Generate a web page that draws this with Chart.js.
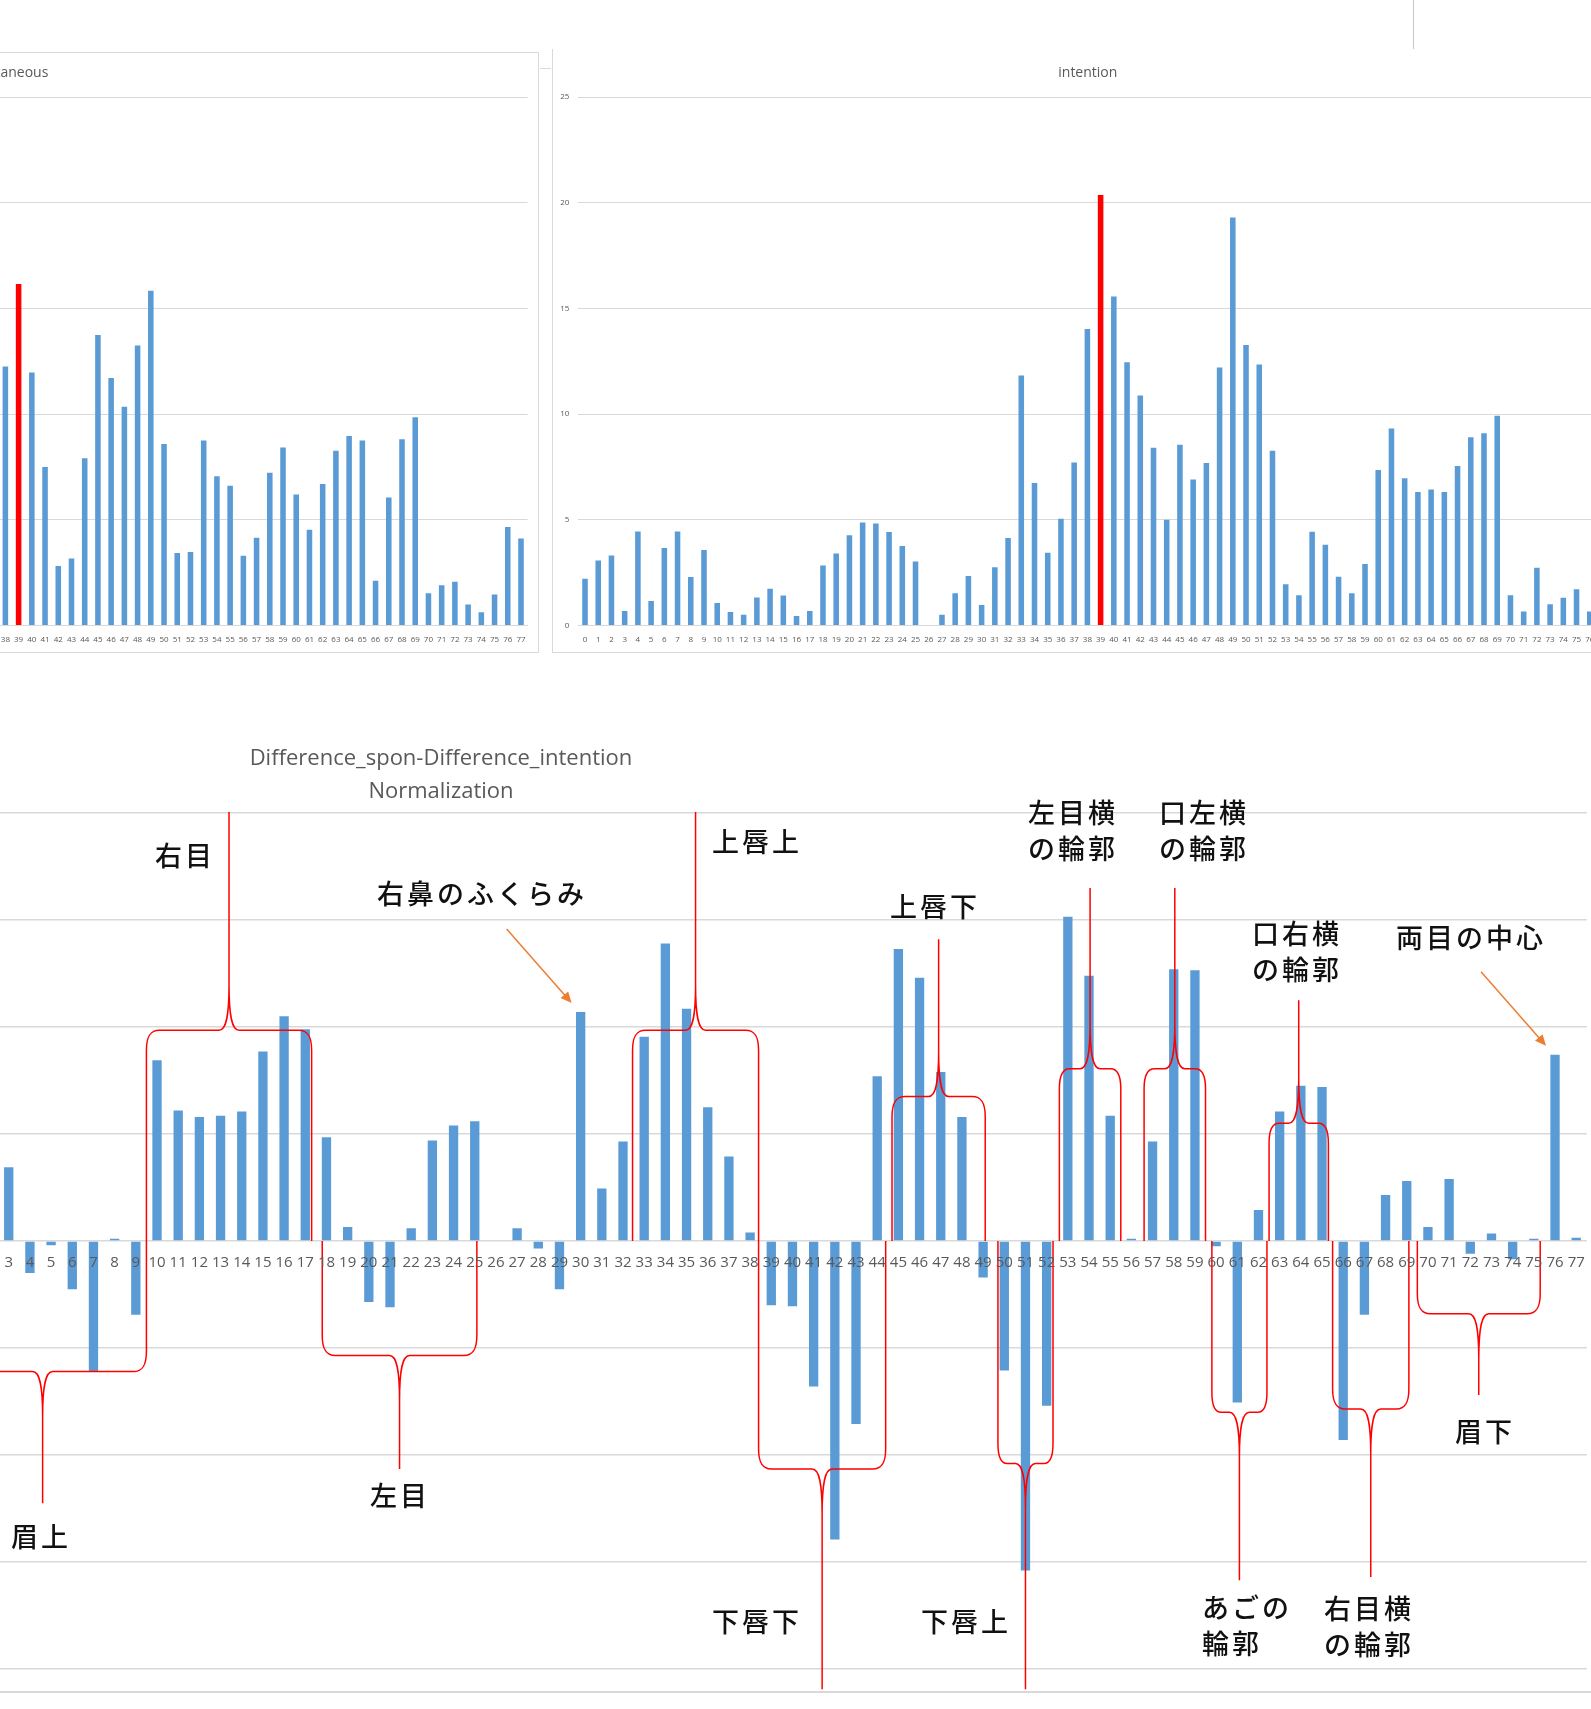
<!DOCTYPE html>
<html>
<head>
<meta charset="utf-8">
<script src="https://cdn.jsdelivr.net/npm/chart.js@4.4.0/dist/chart.umd.min.js"></script>
<style>
  body { margin: 0; width: 1591px; height: 1709px; overflow: hidden; position: relative; background: #fff; }
  canvas, .line, .note, .panel { position: absolute; }
  .panel { border: 1px solid #d9d9d9; box-sizing: border-box; }
  .line { background: #d9d9d9; }
  .note { font-family: "Noto Sans CJK JP", sans-serif; font-size: 27px; font-weight: 500; letter-spacing: 3px; line-height: 36px;
          color: #111; transform: translate(-50%, -50%); white-space: nowrap; text-align: left; }
  .ttl { position: absolute; font-family: "Open Sans", sans-serif; font-size: 22px; line-height: 33px; color: #595959;
         transform: translate(-50%, 0); text-align: center; white-space: nowrap; }
</style>
</head>
<body>
<div class="panel" style="left:-531px;top:52px;width:1070px;height:601px"></div>
<div class="panel" style="left:552px;top:49px;width:1100px;height:604px;border-top:none;border-right:none"></div>
<div class="line" style="left:540px;top:68px;width:11px;height:1px"></div>
<div class="line" style="left:1413px;top:0;width:1px;height:49px;background:#c8c8c8"></div>
<div class="line" style="left:0;top:1691px;width:1591px;height:2px"></div>

<canvas id="spon" width="1068" height="603" style="left:-530px;top:49px"></canvas>
<canvas id="intent" width="1068" height="603" style="left:552px;top:49px"></canvas>
<canvas id="diff" width="1720" height="1000" style="left:-120px;top:700px"></canvas>

<div class="ttl" style="left:441px;top:740px">Difference_spon-Difference_intention<br>Normalization</div>

<div class="note" style="left:185px;top:855px">右目</div>
<div class="note" style="left:482px;top:893px">右鼻のふくらみ</div>
<div class="note" style="left:757px;top:841px">上唇上</div>
<div class="note" style="left:935px;top:906px">上唇下</div>
<div class="note" style="left:1073px;top:830px">左目横<br>の輪郭</div>
<div class="note" style="left:1204px;top:830px">口左横<br>の輪郭</div>
<div class="note" style="left:1297px;top:951px">口右横<br>の輪郭</div>
<div class="note" style="left:1471px;top:937px">両目の中心</div>
<div class="note" style="left:41px;top:1536px">眉上</div>
<div class="note" style="left:400px;top:1495px">左目</div>
<div class="note" style="left:757px;top:1621px">下唇下</div>
<div class="note" style="left:966px;top:1621px">下唇上</div>
<div class="note" style="left:1247px;top:1625px">あごの<br>輪郭</div>
<div class="note" style="left:1369px;top:1626px">右目横<br>の輪郭</div>
<div class="note" style="left:1485px;top:1431px">眉下</div>

<script>
// categories 0..77 (landmark index)
var points = ['0','1','2','3','4','5','6','7','8','9','10','11','12','13','14','15','16','17','18','19',
  '20','21','22','23','24','25','26','27','28','29','30','31','32','33','34','35','36','37','38','39',
  '40','41','42','43','44','45','46','47','48','49','50','51','52','53','54','55','56','57','58','59',
  '60','61','62','63','64','65','66','67','68','69','70','71','72','73','74','75','76','77'];

// spontaneous: only 38..77 visible in the picture
var sponValues = [null,null,null,null,null,null,null,null,null,null,null,null,null,null,null,null,null,null,null,null,
  null,null,null,null,null,null,null,null,null,null,null,null,null,null,null,null,null,null,
  12.25,16.15,11.97,7.50,2.81,3.17,7.91,13.74,11.71,10.35,13.24,15.83,8.58,3.43,3.48,8.75,7.06,6.61,3.30,4.15,
  7.23,8.42,6.20,4.53,6.69,8.27,8.96,8.75,2.12,6.05,8.81,9.85,1.53,1.90,2.07,0.99,0.63,1.47,4.66,4.12];

var intentValues = [2.21,3.07,3.31,0.69,4.45,1.16,3.67,4.45,2.30,3.57,1.07,0.64,0.51,1.33,1.74,1.42,0.45,0.69,2.84,3.41,
  4.27,4.87,4.83,4.42,3.76,3.03,0,0.51,1.52,2.34,0.97,2.75,4.14,11.83,6.74,3.44,5.05,7.71,14.02,20.36,
  15.56,12.45,10.88,8.41,5.00,8.55,6.91,7.69,12.21,19.30,13.27,12.35,8.27,1.95,1.43,4.44,3.82,2.31,1.53,2.91,
  7.35,9.32,6.97,6.31,6.43,6.31,7.55,8.90,9.10,9.92,1.43,0.66,2.73,1.00,1.31,1.71,0.66,null];

var highlightPoint = 39;

// normalized difference: 0..2 are cut off in the picture
var diffValues = [null,null,null,0.69,-0.30,-0.04,-0.45,-1.22,0.02,-0.69,1.69,1.22,1.16,1.17,1.21,1.77,2.10,1.98,0.97,0.13,
  -0.57,-0.62,0.12,0.94,1.08,1.12,0,0.12,-0.07,-0.45,2.14,0.49,0.93,1.91,2.78,2.17,1.25,0.79,0.08,-0.60,
  -0.61,-1.36,-2.79,-1.71,1.54,2.73,2.46,1.58,1.16,-0.34,-1.21,-3.08,-1.54,3.03,2.48,1.17,0.02,0.93,2.54,2.53,
  -0.05,-1.51,0.29,1.21,1.45,1.44,-1.86,-0.69,0.43,0.56,0.13,0.58,-0.12,0.07,-0.17,0.02,1.74,0.03];

// face-region braces (category span, level, tip)
var braceFrom  = [-0.3, 9.5, 17.8, 32.45, 38.4, 44.7, 49.7, 52.6, 56.6, 59.8, 62.5, 65.5, 69.5];
var braceTo    = [9.5, 17.3, 25.1, 38.4, 44.4, 49.1, 52.3, 55.5, 59.5, 62.4, 65.3, 69.1, 75.3];
var braceLevel = [-1.22, 1.97, -1.07, 1.97, -2.13, 1.35, -2.08, 1.61, 1.61, -1.60, 1.10, -1.57, -0.68];
var braceTip   = [-2.45, 4.01, -2.13, 4.01, -4.19, 2.82, -4.19, 3.30, 3.30, -3.17, 2.25, -3.14, -1.44];

// bars pointed at by arrows
var arrowPoints = [30, 76];

Chart.defaults.font.family = "'Open Sans', sans-serif";

// excel centres the title a little right of the canvas middle
var titleShift = {
    id: 'titleShift',
    afterLayout: function (chart) {
        if (chart.titleBlock) {
            chart.titleBlock.left += 7;
            chart.titleBlock.right += 7;
        }
    }
};

function topChart(id, title, values) {
    var colors = values.map(function (v, i) { return i === highlightPoint ? '#ff0000' : '#5b9bd5'; });
    return new Chart(document.getElementById(id), {
        type: 'bar',
        data: {
            labels: points,
            datasets: [{ data: values, backgroundColor: colors, barPercentage: 0.42, categoryPercentage: 1 }]
        },
        options: {
            responsive: false,
            animation: false,
            layout: { padding: { left: 0, right: 10.4, top: 0, bottom: 0 } },
            plugins: {
                legend: { display: false },
                tooltip: { enabled: false },
                title: {
                    display: true, text: title, color: '#595959',
                    font: { size: 14, weight: 'normal', lineHeight: 1 },
                    padding: { top: 17, bottom: 17 }
                }
            },
            scales: {
                x: {
                    grid: { display: false, drawTicks: false },
                    border: { color: '#d9d9d9' },
                    ticks: { color: '#595959', font: { size: 8 }, padding: 9, autoSkip: false, maxRotation: 0 },
                    afterFit: function (s) { s.height = 26.5; }
                },
                y: {
                    min: 0, max: 25,
                    ticks: { stepSize: 5, color: '#595959', font: { size: 8 }, padding: 9 },
                    grid: { color: '#d9d9d9', drawTicks: false },
                    border: { display: false },
                    afterFit: function (s) { s.width = 26.4; }
                }
            }
        },
        plugins: [titleShift]
    });
}

topChart('spon', 'spontaneous', sponValues);
topChart('intent', 'intention', intentValues);

var bracePlugin = {
    id: 'braces',
    afterDatasetsDraw: function (chart) {
        var ctx = chart.ctx, x = chart.scales.x, y = chart.scales.y;
        ctx.save();
        ctx.strokeStyle = '#ff0000';
        ctx.lineWidth = 1.5;
        var y0 = y.getPixelForValue(0);
        braceFrom.forEach(function (from, i) {
            var x0 = x.getPixelForValue(from), x1 = x.getPixelForValue(braceTo[i]);
            var xm = (x0 + x1) / 2;
            var yl = y.getPixelForValue(braceLevel[i]);
            var yt = y.getPixelForValue(braceTip[i]);
            var d = yt < yl ? -1 : 1;
            var rh = Math.min(13, (xm - x0) / 3), rv = 20, qh = 10, qv = 45;
            ctx.beginPath();
            ctx.moveTo(x0, y0);
            ctx.lineTo(x0, yl - d * rv);
            ctx.bezierCurveTo(x0, yl - d * rv * 0.3, x0 + rh * 0.3, yl, x0 + rh, yl);
            ctx.lineTo(xm - qh, yl);
            ctx.bezierCurveTo(xm - qh * 0.3, yl, xm, yl + d * qv * 0.3, xm, yl + d * qv);
            ctx.lineTo(xm, yt);
            ctx.moveTo(x1, y0);
            ctx.lineTo(x1, yl - d * rv);
            ctx.bezierCurveTo(x1, yl - d * rv * 0.3, x1 - rh * 0.3, yl, x1 - rh, yl);
            ctx.lineTo(xm + qh, yl);
            ctx.bezierCurveTo(xm + qh * 0.3, yl, xm, yl + d * qv * 0.3, xm, yl + d * qv);
            ctx.stroke();
        });

        // orange arrows to single bars
        ctx.strokeStyle = '#ed7d31';
        ctx.fillStyle = '#ed7d31';
        arrowPoints.forEach(function (p) {
            var tx = x.getPixelForValue(p) - 9, ty = y.getPixelForValue(diffValues[p]) - 9;
            var sx = tx - 65, sy = ty - 74;
            var a = Math.atan2(ty - sy, tx - sx);
            ctx.beginPath();
            ctx.moveTo(sx, sy);
            ctx.lineTo(tx - 8 * Math.cos(a), ty - 8 * Math.sin(a));
            ctx.stroke();
            ctx.beginPath();
            ctx.moveTo(tx, ty);
            ctx.lineTo(tx - 11 * Math.cos(a) + 5 * Math.sin(a), ty - 11 * Math.sin(a) - 5 * Math.cos(a));
            ctx.lineTo(tx - 11 * Math.cos(a) - 5 * Math.sin(a), ty - 11 * Math.sin(a) + 5 * Math.cos(a));
            ctx.closePath();
            ctx.fill();
        });
        ctx.restore();
    }
};

new Chart(document.getElementById('diff'), {
    type: 'bar',
    data: {
        labels: points,
        datasets: [{ data: diffValues, backgroundColor: '#5b9bd5', barPercentage: 0.44, categoryPercentage: 1 }]
    },
    options: {
        responsive: false,
        animation: false,
        layout: { padding: { left: 0, right: 13.2, top: 113, bottom: 31 } },
        plugins: { legend: { display: false }, tooltip: { enabled: false } },
        scales: {
            x: {
                position: { y: 0 },
                grid: { display: false, drawTicks: false },
                border: { display: false },
                ticks: { z: 1, color: '#595959', font: { size: 15 }, padding: 13, autoSkip: false, maxRotation: 0 }
            },
            y: {
                min: -4, max: 4,
                ticks: { stepSize: 1, color: '#595959', font: { size: 15 } },
                grid: { color: '#d9d9d9', lineWidth: 1.5, drawTicks: false },
                border: { display: false },
                afterFit: function (s) { s.width = 54.6; }
            }
        }
    },
    plugins: [bracePlugin]
});
</script>
</body>
</html>
